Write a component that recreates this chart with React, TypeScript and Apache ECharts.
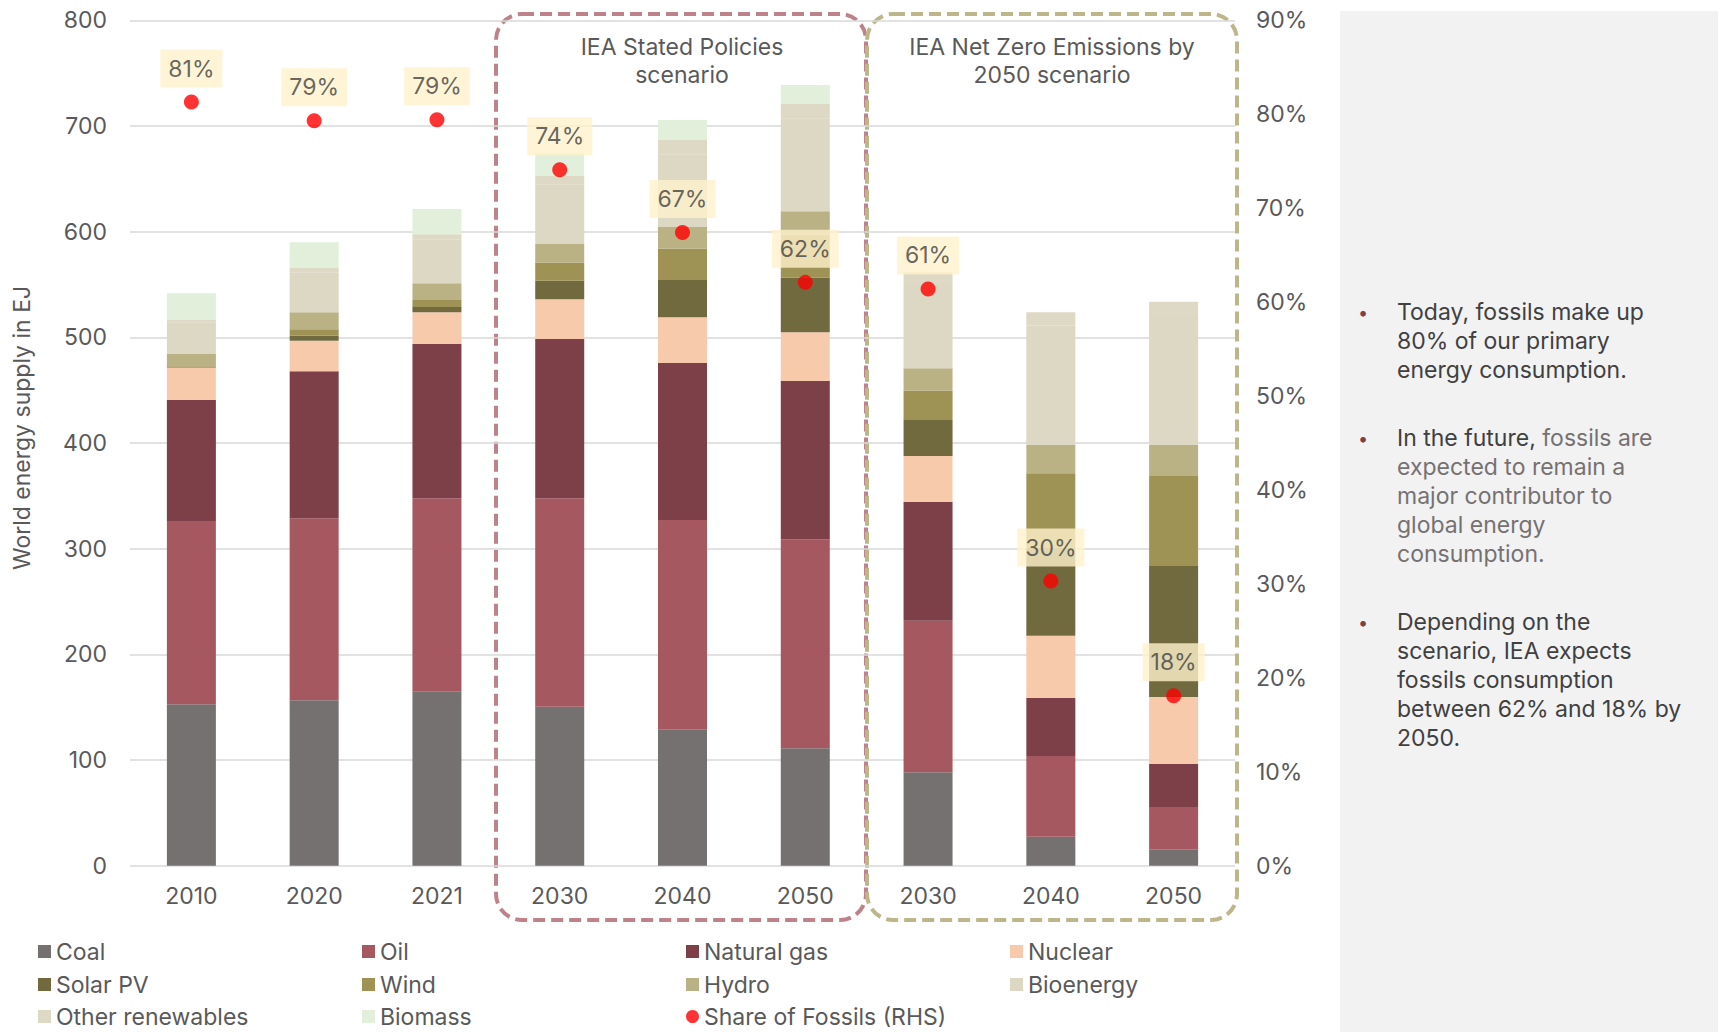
import React, { useEffect, useRef } from 'react';
import * as echarts from 'echarts';

const categories = ['2010', '2020', '2021', '2030', '2040', '2050', '2030', '2040', '2050'];
const coal = [152.7, 156.5, 164.7, 150.5, 129.1, 111.1, 88.4, 27.4, 15.5];
const oil = [173.5, 172.2, 183.0, 197.2, 198.0, 197.8, 143.5, 76.4, 40.0];
const naturalGas = [114.5, 139.1, 146.0, 150.7, 148.6, 149.8, 112.6, 54.9, 41.0];
const nuclear = [30.6, 29.0, 30.0, 37.6, 43.2, 46.0, 43.2, 59.0, 63.1];
const solarPV = [0.3, 4.7, 5.0, 17.6, 36.0, 51.7, 34.1, 83.0, 124.0];
const wind = [1.1, 6.1, 6.6, 17.0, 29.0, 41.0, 27.7, 70.6, 85.1];
const hydro = [11.5, 16.1, 15.8, 17.7, 20.5, 22.0, 21.2, 26.8, 29.4];
const bioenergy = [29.6, 37.5, 41.6, 56.5, 68.8, 88.0, 77.9, 113.0, 122.0];
const otherRenewables = [2.6, 4.4, 4.8, 7.9, 13.5, 13.4, 13.4, 12.6, 13.6];
const biomass = [25.3, 24.3, 23.9, 22.3, 18.9, 18.0, 0, 0, 0];
const shareFossils = [81.3, 79.3, 79.4, 74.1, 67.4, 62.1, 61.4, 30.3, 18.1];

const leftTicks = { min: 0, max: 800, interval: 100 };
const rightTicks = { min: 0, max: 90, interval: 10 };

const FONT = 'Inter, "Noto Sans", sans-serif';
const FS = 23;
const GREY = '#595959';

const barSeriesDefs = [
  { name: 'Coal', data: coal, color: '#767171' },
  { name: 'Oil', data: oil, color: '#A65861' },
  { name: 'Natural gas', data: naturalGas, color: '#7D4048' },
  { name: 'Nuclear', data: nuclear, color: '#F7CAAC' },
  { name: 'Solar PV', data: solarPV, color: '#716A3F' },
  { name: 'Wind', data: wind, color: '#9E9255' },
  { name: 'Hydro', data: hydro, color: '#BAB185' },
  { name: 'Bioenergy', data: bioenergy, color: '#DDD8C3' },
  { name: 'Other renewables', data: otherRenewables, color: '#DDD9C4' },
  { name: 'Biomass', data: biomass, color: '#E2EFDA' },
];

const legendRows = [
  ['Coal', 'Oil', 'Natural gas', 'Nuclear'],
  ['Solar PV', 'Wind', 'Hydro', 'Bioenergy'],
  ['Other renewables', 'Biomass', 'Share of Fossils (RHS)'],
];
const legendLefts = [38, 362, 686, 1010];
const legendRowCenters = [951, 984, 1016];

export default function App() {
  const ref = useRef<HTMLDivElement>(null);
  useEffect(() => {
    if (!ref.current) return;
    const chart = echarts.init(ref.current, null, { renderer: 'svg' });
    const textBase = { fontFamily: FONT, fontSize: FS, color: GREY };

    const series: any[] = barSeriesDefs.map((s) => ({
      name: s.name,
      type: 'bar',
      stack: 'total',
      barWidth: 49,
      data: s.data,
      itemStyle: { color: s.color },
      emphasis: { disabled: true },
    }));
    series.push({
      name: 'Share of Fossils (RHS)',
      type: 'scatter',
      yAxisIndex: 1,
      data: shareFossils,
      symbol: 'circle',
      symbolSize: 15,
      z: 5,
      itemStyle: { color: '#FF0000' },
      label: {
        show: true,
        position: 'top',
        distance: 7,
        formatter: (p: any) => Math.round(p.value) + '%',
        backgroundColor: '#FFF2CC',
        padding: [6, 8, 6, 8],
        color: '#404040',
        fontFamily: FONT,
        fontSize: FS,
        lineHeight: 26,
      },
    });

    const legends: any[] = [];
    legendRows.forEach((row, r) => {
      row.forEach((name, c) => {
        legends.push({
          orient: 'horizontal',
          left: legendLefts[c],
          top: legendRowCenters[r] - 11,
          padding: 0,
          itemWidth: 13,
          itemHeight: 13,
          selectedMode: false,
          textStyle: { fontFamily: FONT, fontSize: FS, color: GREY, lineHeight: 22 },
          data: [{ name, icon: name.startsWith('Share') ? 'circle' : 'rect' }],
        });
      });
    });

    const txt = (x: number, y: number, text: string, extra: any = {}) => ({
      type: 'text',
      x,
      y,
      style: {
        text,
        fill: GREY,
        font: `${FS}px ${FONT}`,
        align: 'center',
        verticalAlign: 'middle',
        textAlign: 'center',
        textVerticalAlign: 'middle',
        lineHeight: 28,
        ...extra,
      },
    });

    const richStyle = (fill: string) => ({ fill, fontFamily: FONT, fontSize: FS, lineHeight: 29 });

    chart.setOption({
      animation: false,
      textStyle: { fontFamily: FONT },
      grid: { left: 130, right: 488, top: 20.3, bottom: 166.3, containLabel: false },
      legend: legends,
      xAxis: {
        type: 'category',
        data: categories,
        axisLine: { show: false },
        axisTick: { show: false },
        axisLabel: { ...textBase, margin: 19 },
      },
      yAxis: [
        {
          type: 'value',
          ...leftTicks,
          axisLine: { show: false },
          axisTick: { show: false },
          axisLabel: { ...textBase, margin: 23 },
          splitLine: { lineStyle: { color: '#D9D9D9', width: 1.5 } },
        },
        {
          type: 'value',
          position: 'right',
          ...rightTicks,
          axisLine: { show: false },
          axisTick: { show: false },
          axisLabel: { ...textBase, margin: 21, formatter: '{value}%' },
          splitLine: { show: false },
        },
      ],
      series,
      graphic: [
        {
          type: 'rect',
          z: -10,
          shape: { x: 1340, y: 11, width: 378, height: 1025 },
          style: { fill: '#F2F2F2' },
        },
        {
          type: 'rect',
          shape: { x: 496, y: 14, width: 370, height: 906, r: 26 },
          style: { fill: 'none', stroke: '#C0828A', lineWidth: 4, lineDash: [12, 6] },
        },
        {
          type: 'rect',
          shape: { x: 867, y: 14, width: 370, height: 906, r: 26 },
          style: { fill: 'none', stroke: '#BDB68A', lineWidth: 4, lineDash: [12, 6] },
        },
        txt(682, 61, 'IEA Stated Policies\nscenario'),
        txt(1052, 61, 'IEA Net Zero Emissions by\n2050 scenario'),
        { ...txt(22, 428, 'World energy supply in EJ'), rotation: Math.PI / 2 },
        txt(1363, 312, '•', { fill: '#7D4048', font: `18px ${FONT}` }),
        txt(1363, 438, '•', { fill: '#7D4048', font: `18px ${FONT}` }),
        txt(1363, 622, '•', { fill: '#7D4048', font: `18px ${FONT}` }),
        txt(1397, 297, 'Today, fossils make up\n80% of our primary\nenergy consumption.', {
          align: 'left', textAlign: 'left', verticalAlign: 'top', textVerticalAlign: 'top',
          fill: '#404040', lineHeight: 29,
        }),
        {
          type: 'text',
          x: 1397,
          y: 423.5,
          style: {
            text:
              '{d|In the future, }{l|fossils are}\n{l|expected to remain a}\n{l|major contributor to}\n{l|global energy}\n{l|consumption.}',
            align: 'left',
            verticalAlign: 'top',
            font: `${FS}px ${FONT}`,
            lineHeight: 29,
            rich: { d: richStyle('#404040'), l: richStyle('#767171') },
          },
        },
        txt(1397, 607.5, 'Depending on the\nscenario, IEA expects\nfossils consumption\nbetween 62% and 18% by\n2050.', {
          align: 'left', textAlign: 'left', verticalAlign: 'top', textVerticalAlign: 'top',
          fill: '#404040', lineHeight: 29,
        }),
      ],
    });
    return () => chart.dispose();
  }, []);
  return (
    <div
      ref={ref}
      style={{ position: 'fixed', left: 0, top: 0, width: 1723, height: 1032, background: '#fff' }}
    />
  );
}
